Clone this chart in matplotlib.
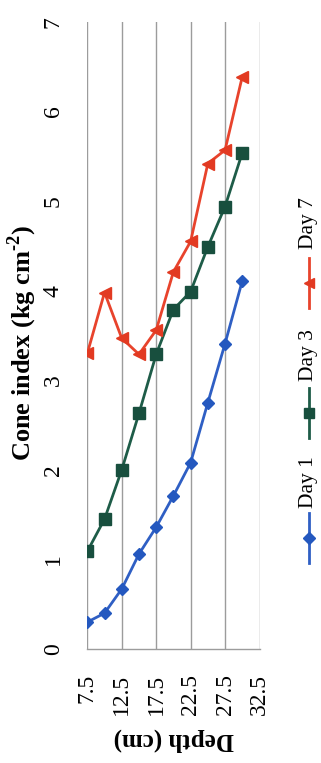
import matplotlib
matplotlib.use("Agg")
import matplotlib.pyplot as plt
from matplotlib.lines import Line2D

# depth of each reading (cm) and cone index (kg cm-2) per day
depth = [7.5, 10, 12.5, 15, 17.5, 20, 22.5, 25, 27.5, 30]
day1 = [0.30, 0.40, 0.67, 1.06, 1.36, 1.71, 2.08, 2.75, 3.41, 4.11]
day3 = [1.09, 1.45, 2.00, 2.63, 3.29, 3.79, 3.99, 4.49, 4.94, 5.54]
day7 = [3.30, 3.98, 3.47, 3.29, 3.56, 4.21, 4.55, 5.42, 5.57, 6.39]

depth_ticks = [7.5, 12.5, 17.5, 22.5, 27.5, 32.5]
cone_ticks = [0, 1, 2, 3, 4, 5, 6, 7]

series = [("Day 1", day1, "#2f5fc4", "#2458bf", "D", 6.5),
          ("Day 3", day3, "#1e5c48", "#184f3e", "s", 8),
          ("Day 7", day7, "#e8432c", "#e23a22", "<", 8.5)]

plt.rcParams['font.family'] = ['Liberation Serif', 'DejaVu Serif']
plt.rcParams['mathtext.fontset'] = 'custom'
plt.rcParams['mathtext.rm'] = 'Liberation Serif'
plt.rcParams['mathtext.bf'] = 'Liberation Serif:bold'

W, H = 321, 763
fig = plt.figure(figsize=(W / 100, H / 100), dpi=100)
ax = fig.add_axes([87.3 / W, 1 - 649 / H, (259.5 - 87.3) / W, (649 - 22) / H])

for name, vals, lc, mc, mk, ms in series:
    ax.plot(depth, vals, color=lc, lw=2, marker=mk, ms=ms,
            mfc=mc, mec=mc, zorder=3)

ax.set_xlim(7.5, 32.5)
ax.set_ylim(0, 7)
ax.set_xticks(depth_ticks)
ax.set_xticklabels([str(d) for d in depth_ticks], rotation=90, fontsize=17)
ax.set_yticks(cone_ticks)
ax.set_yticklabels([str(c) for c in cone_ticks], rotation=90, fontsize=17,
                   va='center')
ax.tick_params(axis='x', length=0, pad=18)
ax.tick_params(axis='y', length=0, pad=17)

ax.grid(axis='x', color='#9c9c9c', lw=1)
for s in ['top', 'left', 'right']:
    ax.spines[s].set_visible(False)
ax.spines['bottom'].set_color('#9c9c9c')
ax.spines['bottom'].set_linewidth(1)

fig.text(22 / W, 1 - 343 / H, "Cone index (kg cm$^{\\mathbf{\u20102}}$)", rotation=90,
         ha='center', va='center', fontsize=19, fontweight='bold')
fig.text(174 / W, 1 - 740 / H, "Depth (cm)", rotation=180,
         ha='center', va='center', fontsize=18, fontweight='bold')

# legend drawn vertically, as in the rotated original
leg_pos = [(538, 482), (413, 355), (283, 223)]
for (name, vals, lc, mc, mk, ms), (ly, ty) in zip(series, leg_pos):
    fig.add_artist(Line2D([309 / W, 309 / W], [1 - (ly + 25) / H, 1 - (ly - 25) / H],
                          color=lc, lw=2, transform=fig.transFigure))
    fig.add_artist(Line2D([309 / W], [1 - ly / H], color=lc, marker=mk,
                          ms=ms * 0.9, mfc=mc, mec=mc, lw=0,
                          transform=fig.transFigure))
    fig.text(309 / W, 1 - ty / H, name, rotation=90, ha='center',
             va='center', fontsize=15.5)

plt.savefig("out.png", dpi=100)
